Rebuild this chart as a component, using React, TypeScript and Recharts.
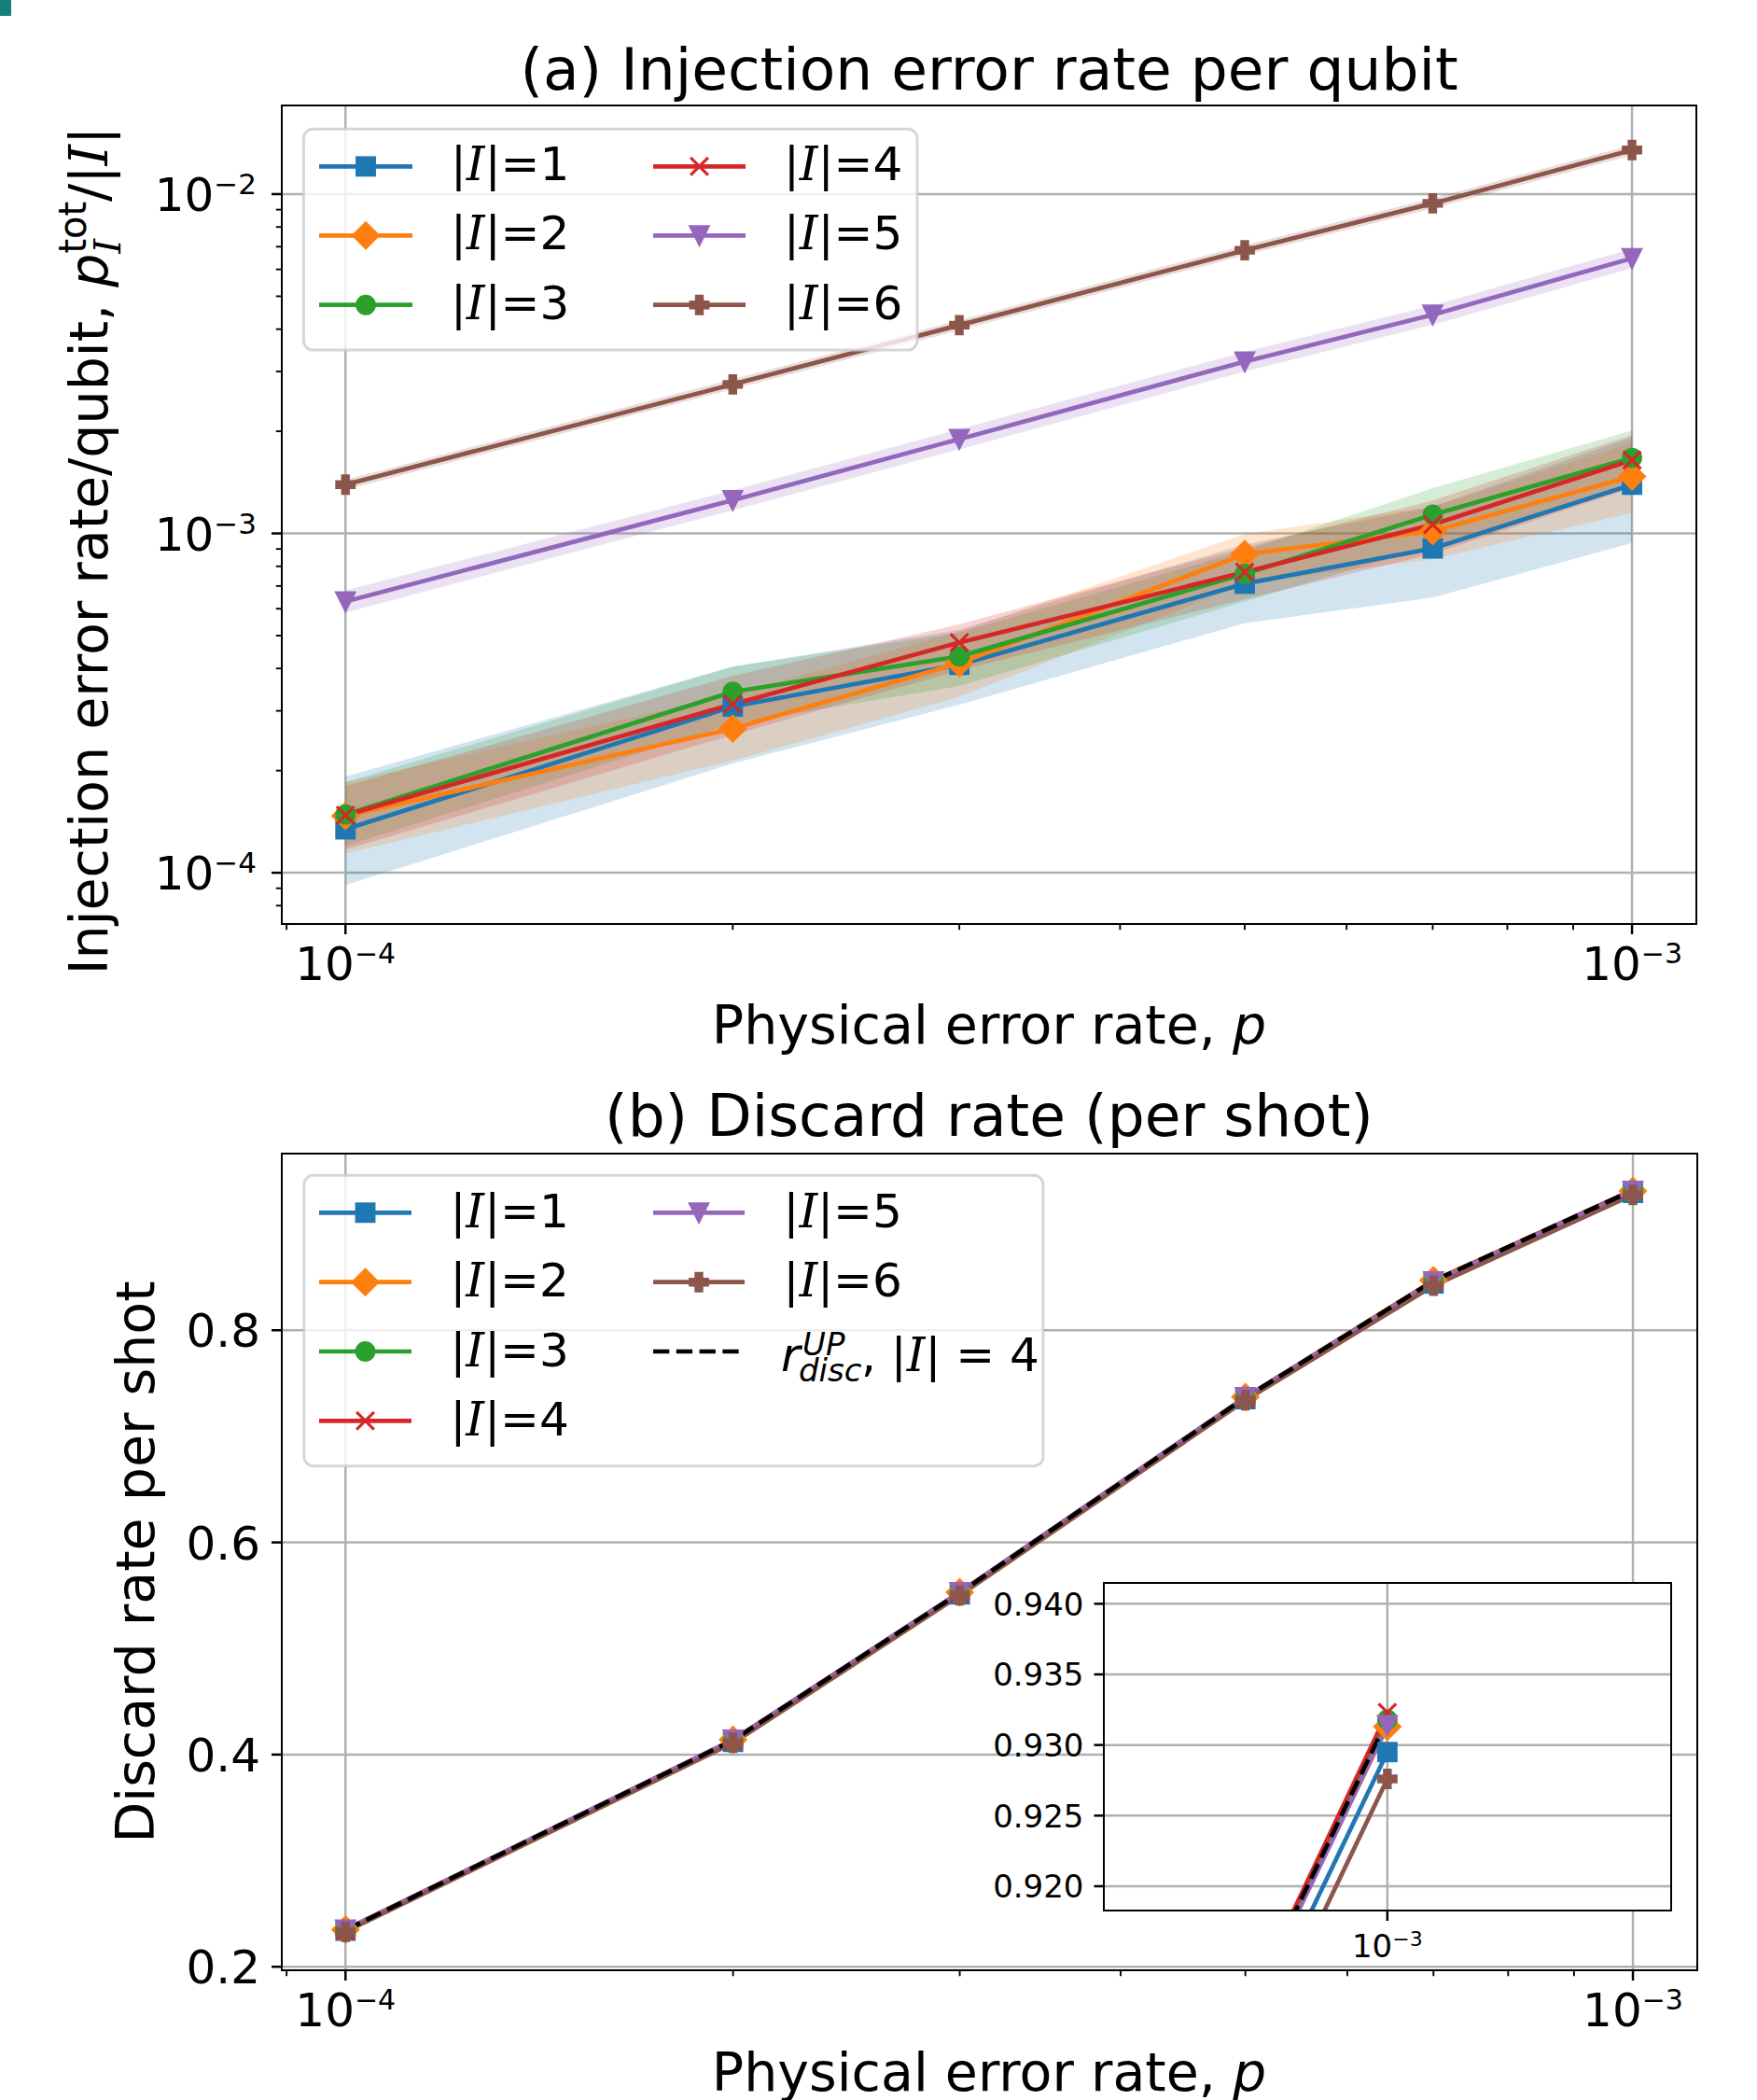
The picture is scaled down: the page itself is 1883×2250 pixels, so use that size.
import React from 'react';
import { ComposedChart, Line, Area, XAxis, YAxis, CartesianGrid } from 'recharts';

const FONT = '"DejaVu Sans", sans-serif';
const CAL = '"DejaVu Serif", serif';

// ---------- data ----------
const P_VALUES = [1e-4, 2e-4, 3e-4, 5e-4, 7e-4, 1e-3];
const SIZE_LABELS = ['1', '2', '3', '4', '5', '6'];
const COLORS = ['#1f77b4', '#ff7f0e', '#2ca02c', '#d62728', '#9467bd', '#8c564b'];
const MARKERS = ['square', 'diamond', 'circle', 'x', 'tri', 'plus'];

// (a) injection error rate per qubit
const inj1 = [1.343e-4, 3.09e-4, 4.1e-4, 7.11e-4, 9.03e-4, 1.392e-3];
const inj2 = [1.47e-4, 2.66e-4, 4.15e-4, 8.69e-4, 1.016e-3, 1.472e-3];
const inj3 = [1.485e-4, 3.415e-4, 4.34e-4, 7.6e-4, 1.135e-3, 1.67e-3];
const inj4 = [1.477e-4, 3.14e-4, 4.77e-4, 7.69e-4, 1.062e-3, 1.644e-3];
const inj5 = [6.3e-4, 1.253e-3, 1.897e-3, 3.21e-3, 4.41e-3, 6.47e-3];
const inj6 = [1.393e-3, 2.75e-3, 4.11e-3, 6.83e-3, 9.39e-3, 1.349e-2];

const inj1Lo = [9.2e-5, 2.1e-4, 3.13e-4, 5.44e-4, 6.47e-4, 9.37e-4];
const inj1Hi = [1.92e-4, 4.05e-4, 5.2e-4, 9.3e-4, 1.2e-3, 1.92e-3];
const inj2Lo = [1.14e-4, 2.14e-4, 3.3e-4, 7.1e-4, 8.4e-4, 1.15e-3];
const inj2Hi = [1.85e-4, 3.35e-4, 5.15e-4, 9.95e-4, 1.2e-3, 1.85e-3];
const inj3Lo = [1.2e-4, 2.75e-4, 3.55e-4, 6.3e-4, 9.2e-4, 1.38e-3];
const inj3Hi = [1.85e-4, 4.05e-4, 5.1e-4, 8.9e-4, 1.36e-3, 2.01e-3];
const inj4Lo = [1.17e-4, 2.55e-4, 3.95e-4, 6.4e-4, 8.7e-4, 1.36e-3];
const inj4Hi = [1.8e-4, 3.8e-4, 5.4e-4, 9.1e-4, 1.25e-3, 1.95e-3];
const inj5Lo = [5.85e-4, 1.17e-3, 1.77e-3, 3.0e-3, 4.12e-3, 6.05e-3];
const inj5Hi = [6.8e-4, 1.34e-3, 2.03e-3, 3.43e-3, 4.7e-3, 6.9e-3];
const inj6Lo = [1.345e-3, 2.66e-3, 3.97e-3, 6.6e-3, 9.07e-3, 1.303e-2];
const inj6Hi = [1.44e-3, 2.85e-3, 4.25e-3, 7.07e-3, 9.72e-3, 1.396e-2];

// (b) discard rate per shot
const disc1 = [0.234, 0.412, 0.551, 0.735, 0.844, 0.9295];
const disc2 = [0.235, 0.414, 0.553, 0.737, 0.847, 0.9313];
const disc3 = [0.234, 0.413, 0.552, 0.736, 0.846, 0.9318];
const disc4 = [0.234, 0.413, 0.552, 0.736, 0.846, 0.9323];
const disc5 = [0.235, 0.414, 0.553, 0.737, 0.846, 0.9314];
const disc6 = [0.233, 0.411, 0.550, 0.734, 0.842, 0.9276];
const discUp = [0.2345, 0.4135, 0.5525, 0.7365, 0.8465, 0.9318];

// ticks
const X_TICKS = [9e-5, 1e-4, 2e-4, 3e-4, 4e-4, 5e-4, 6e-4, 7e-4, 8e-4, 9e-4, 1e-3];
const X_MAJOR = [1e-4, 1e-3];
const Y_TICKS_A = [8e-5, 9e-5, 1e-4, 2e-4, 3e-4, 4e-4, 5e-4, 6e-4, 7e-4, 8e-4, 9e-4, 1e-3,
  2e-3, 3e-3, 4e-3, 5e-3, 6e-3, 7e-3, 8e-3, 9e-3, 1e-2];
const Y_MAJOR_A = [1e-4, 1e-3, 1e-2];
const Y_TICKS_B = [0.2, 0.4, 0.6, 0.8];
const INSET_Y_TICKS = [0.92, 0.925, 0.93, 0.935, 0.94];
const INSET_X_TICKS = [1e-3];

// axis limits
const X_DOMAIN: [number, number] = [8.923e-5, 1.122e-3];
const Y_DOMAIN_A: [number, number] = [7.063e-5, 1.825e-2];
const Y_DOMAIN_B: [number, number] = [0.1967, 0.9665];
const INSET_X_DOMAIN: [number, number] = [8.3966e-4, 1.19124e-3];
const INSET_Y_DOMAIN: [number, number] = [0.91828, 0.94143];

const injS = [inj1, inj2, inj3, inj4, inj5, inj6];
const injLo = [inj1Lo, inj2Lo, inj3Lo, inj4Lo, inj5Lo, inj6Lo];
const injHi = [inj1Hi, inj2Hi, inj3Hi, inj4Hi, inj5Hi, inj6Hi];
const discS = [disc1, disc2, disc3, disc4, disc5, disc6];

const injRows = P_VALUES.map((p, i) => {
  const r: any = { p };
  injS.forEach((s, k) => {
    r['s' + k] = s[i];
    r['b' + k] = [injLo[k][i], injHi[k][i]];
  });
  return r;
});
const discRows = P_VALUES.map((p, i) => {
  const r: any = { p, up: discUp[i] };
  discS.forEach((s, k) => { r['d' + k] = s[i]; });
  return r;
});

// ---------- markers ----------
const MS = 18.75;
const ME = 3.125;
const Marker = ({ cx, cy, kind, color }: any) => {
  if (cx == null || cy == null) return null;
  const h = MS / 2;
  if (kind === 'square') return <rect x={cx - h} y={cy - h} width={MS} height={MS} fill={color} stroke={color} strokeWidth={ME} />;
  if (kind === 'circle') return <circle cx={cx} cy={cy} r={h} fill={color} stroke={color} strokeWidth={ME} />;
  if (kind === 'diamond') {
    const d = MS * Math.SQRT2 / 2;
    return <polygon points={`${cx},${cy - d} ${cx + d},${cy} ${cx},${cy + d} ${cx - d},${cy}`} fill={color} stroke={color} strokeWidth={ME} />;
  }
  if (kind === 'tri') return <polygon points={`${cx},${cy + h} ${cx - h},${cy - h} ${cx + h},${cy - h}`} fill={color} stroke={color} strokeWidth={ME} />;
  if (kind === 'x') return <g stroke={color} strokeWidth={ME}><line x1={cx - h} y1={cy - h} x2={cx + h} y2={cy + h} /><line x1={cx - h} y1={cy + h} x2={cx + h} y2={cy - h} /></g>;
  const u = MS / 6;
  const pts = [[-1, -3], [1, -3], [1, -1], [3, -1], [3, 1], [1, 1], [1, 3], [-1, 3], [-1, 1], [-3, 1], [-3, -1], [-1, -1]]
    .map(([a, b]) => `${cx + a * u},${cy + b * u}`).join(' ');
  return <polygon points={pts} fill={color} stroke={color} strokeWidth={ME} />;
};

const isMajorLog = (v: number) => { const e = Math.log10(v); return Math.abs(e - Math.round(e)) < 1e-6; };

// ---------- ticks ----------
const XLogTick = (props: any) => {
  const { x, y, payload, fs = 50, sup = 30, base = 60, raise = 18, len = 11 } = props;
  const v = payload.value;
  const major = isMajorLog(v);
  const e = Math.round(Math.log10(v));
  return (
    <g>
      <line x1={x} x2={x} y1={y} y2={y + (major ? len : 6.25)} stroke="#000" strokeWidth={major ? 2.5 : 1.9} />
      {major && (
        <text x={x} y={y + base} textAnchor="middle" fontFamily={FONT} fontSize={fs} fill="#000">
          <tspan>10</tspan>
          <tspan fontSize={sup} dy={-raise}>{'\u2212' + Math.abs(e)}</tspan>
        </text>
      )}
    </g>
  );
};

const YLogTick = (props: any) => {
  const { x, y, payload } = props;
  const v = payload.value;
  const major = isMajorLog(v);
  const e = Math.round(Math.log10(v));
  return (
    <g>
      <line x1={x - (major ? 11 : 6.25)} x2={x} y1={y} y2={y} stroke="#000" strokeWidth={major ? 2.5 : 1.9} />
      {major && (
        <text x={x - 27} y={y + 18} textAnchor="end" fontFamily={FONT} fontSize={50} fill="#000">
          <tspan>10</tspan>
          <tspan fontSize={31} dy={-18}>{'\u2212' + Math.abs(e)}</tspan>
        </text>
      )}
    </g>
  );
};

const YLinTick = (props: any) => {
  const { x, y, payload, fs = 50, digits = 1, len = 11, gap = 23 } = props;
  return (
    <g>
      <line x1={x - len} x2={x} y1={y} y2={y} stroke="#000" strokeWidth={2.5} />
      <text x={x - gap} y={y + fs * 0.3645} textAnchor="end" fontFamily={FONT} fontSize={fs} fill="#000">
        {payload.value.toFixed(digits)}
      </text>
    </g>
  );
};

// ---------- helpers ----------
const Frame = ({ l, t, r, b }: any) => (
  <div style={{ position: 'absolute', left: l - 1.25, top: t - 1.25, width: r - l + 2.5, height: b - t + 2.5, border: '2.5px solid #000', boxSizing: 'border-box', pointerEvents: 'none' }} />
);

const LegendEntry = ({ x0, x1, y, color, kind, dashed }: any) => (
  <g>
    <line x1={x0} x2={x1} y1={y} y2={y} stroke={color} strokeWidth={4.7} strokeDasharray={dashed ? '17.3 7.5' : undefined} />
    {!dashed && <Marker cx={(x0 + x1) / 2} cy={y} kind={kind} color={color} />}
  </g>
);

const CalI = () => <tspan fontFamily={CAL} fontStyle="italic">I</tspan>;

const SizeLabel = ({ x, y, n }: any) => (
  <text x={x} y={y} fontFamily={FONT} fontSize={50} fill="#000">
    <tspan>|</tspan><CalI /><tspan>|={n}</tspan>
  </text>
);

export default function App() {
  const seriesLines = (prefix: string) => SIZE_LABELS.map((_, k) => (
    <Line key={prefix + k} dataKey={prefix + k} type="linear" stroke={COLORS[k]} strokeWidth={4.7}
      isAnimationActive={false} activeDot={false}
      dot={(pr: any) => <Marker key={prefix + k + '-' + pr.index} cx={pr.cx} cy={pr.cy} kind={MARKERS[k]} color={COLORS[k]} />} />
  ));
  const upLine = (
    <Line key="up" dataKey="up" type="linear" stroke="#000" strokeWidth={4.7} strokeDasharray="17.3 7.5"
      isAnimationActive={false} activeDot={false} dot={false} />
  );

  // legend rows
  const rowsA = [178.3, 252.3, 326.7];
  const rowsB = [1299.3, 1373.7, 1448, 1522.3];

  return (
    <div style={{ position: 'absolute', left: 0, top: 0, width: 1883, height: 2250, background: '#fff', overflow: 'hidden', fontFamily: FONT }}>
      <div style={{ position: 'absolute', left: 0, top: 0, width: 12, height: 17, background: '#17807e' }} />

      {/* panel (a) */}
      <div style={{ position: 'absolute', left: 0, top: 0 }}>
        <ComposedChart width={1883} height={1120} data={injRows} margin={{ top: 113, right: 65, bottom: 30, left: 0 }}>
          <CartesianGrid stroke="#b0b0b0" strokeWidth={2.5} horizontalValues={Y_MAJOR_A} verticalValues={X_MAJOR} />
          <XAxis dataKey="p" type="number" scale="log" domain={X_DOMAIN} allowDataOverflow ticks={X_TICKS} interval={0}
            tick={(p: any) => <XLogTick {...p} />} tickLine={false} axisLine={false} tickSize={0} tickMargin={0} height={100} />
          <YAxis type="number" scale="log" domain={Y_DOMAIN_A} allowDataOverflow ticks={Y_TICKS_A} interval={0}
            tick={(p: any) => <YLogTick {...p} />} tickLine={false} axisLine={false} tickSize={0} tickMargin={0} width={302} />
          {SIZE_LABELS.map((_, k) => (
            <Area key={'b' + k} dataKey={'b' + k} type="linear" fill={COLORS[k]} fillOpacity={0.2} stroke="none"
              isAnimationActive={false} activeDot={false} dot={false} />
          ))}
          {seriesLines('s')}
        </ComposedChart>
      </div>
      <Frame l={302} t={113} r={1818} b={990} />

      {/* panel (b) */}
      <div style={{ position: 'absolute', left: 0, top: 1130 }}>
        <ComposedChart width={1883} height={1120} data={discRows} margin={{ top: 106, right: 64, bottom: 39, left: 0 }}>
          <CartesianGrid stroke="#b0b0b0" strokeWidth={2.5} horizontalValues={Y_TICKS_B} verticalValues={X_MAJOR} />
          <XAxis dataKey="p" type="number" scale="log" domain={X_DOMAIN} allowDataOverflow ticks={X_TICKS} interval={0}
            tick={(p: any) => <XLogTick {...p} />} tickLine={false} axisLine={false} tickSize={0} tickMargin={0} height={100} />
          <YAxis type="number" domain={Y_DOMAIN_B} allowDataOverflow ticks={Y_TICKS_B} interval={0}
            tick={(p: any) => <YLinTick {...p} />} tickLine={false} axisLine={false} tickSize={0} tickMargin={0} width={302} />
          {seriesLines('d')}
          {upLine}
        </ComposedChart>
      </div>
      <Frame l={302} t={1236} r={1819} b={2111} />

      {/* inset */}
      <div style={{ position: 'absolute', left: 1183.5, top: 1696.7, width: 607.1, height: 350.3, background: '#fff' }} />
      <div style={{ position: 'absolute', left: 1000, top: 1650 }}>
        <ComposedChart width={820} height={480} data={discRows} margin={{ top: 46.7, right: 29.4, bottom: 23, left: 0 }}>
          <CartesianGrid stroke="#b0b0b0" strokeWidth={2.5} horizontalValues={INSET_Y_TICKS} verticalValues={INSET_X_TICKS} />
          <XAxis dataKey="p" type="number" scale="log" domain={INSET_X_DOMAIN} allowDataOverflow ticks={INSET_X_TICKS} interval={0}
            tick={(p: any) => <XLogTick {...p} fs={34} sup={22} base={50} raise={12} />} tickLine={false} axisLine={false} tickSize={0} tickMargin={0} height={60} />
          <YAxis type="number" domain={INSET_Y_DOMAIN} allowDataOverflow ticks={INSET_Y_TICKS} interval={0}
            tick={(p: any) => <YLinTick {...p} fs={34} digits={3} gap={22} />} tickLine={false} axisLine={false} tickSize={0} tickMargin={0} width={183.5} />
          {seriesLines('d')}
          {upLine}
        </ComposedChart>
      </div>
      <Frame l={1183.5} t={1696.7} r={1790.6} b={2047} />

      {/* texts and legends */}
      <svg width={1883} height={2250} style={{ position: 'absolute', left: 0, top: 0, pointerEvents: 'none' }}>
        <text x={1060} y={96} textAnchor="middle" fontFamily={FONT} fontSize={63} fill="#000">(a) Injection error rate per qubit</text>
        <text x={1060} y={1217} textAnchor="middle" fontFamily={FONT} fontSize={63} fill="#000">(b) Discard rate (per shot)</text>
        <text x={1060} y={1118} textAnchor="middle" fontFamily={FONT} fontSize={57} fill="#000">Physical error rate, <tspan fontStyle="italic">p</tspan></text>
        <text x={1060} y={2240} textAnchor="middle" fontFamily={FONT} fontSize={57} fill="#000">Physical error rate, <tspan fontStyle="italic">p</tspan></text>
        <text transform="translate(165,1673.5) rotate(-90)" textAnchor="middle" fontFamily={FONT} fontSize={57} fill="#000">Discard rate per shot</text>
        <text transform="translate(115,590) rotate(-90)" textAnchor="middle" fontFamily={FONT} fontSize={57} fill="#000">
          <tspan>Injection error rate/qubit, </tspan>
          <tspan fontStyle="italic">p</tspan>
          <tspan fontSize={40} dy={-23}>tot</tspan>
          <tspan fontSize={40} fontFamily={CAL} fontStyle="italic" dx={-56} dy={37}>I</tspan>
          <tspan dx={40} dy={-14}>/|</tspan>
          <CalI />
          <tspan>|</tspan>
        </text>

        {/* legend (a) */}
        <rect x={325.4} y={138.3} width={657.6} height={236.7} rx={10} fill="#fff" fillOpacity={0.8} stroke="#cccccc" strokeOpacity={0.8} strokeWidth={3} />
        {[0, 1, 2].map((r) => (
          <g key={'la' + r}>
            <LegendEntry x0={342} x1={442} y={rowsA[r]} color={COLORS[r]} kind={MARKERS[r]} />
            <SizeLabel x={483} y={rowsA[r] + 15} n={SIZE_LABELS[r]} />
            <LegendEntry x0={700} x1={799} y={rowsA[r]} color={COLORS[r + 3]} kind={MARKERS[r + 3]} />
            <SizeLabel x={840} y={rowsA[r] + 15} n={SIZE_LABELS[r + 3]} />
          </g>
        ))}

        {/* legend (b) */}
        <rect x={325.8} y={1259.3} width={792.2} height={311.4} rx={10} fill="#fff" fillOpacity={0.8} stroke="#cccccc" strokeOpacity={0.8} strokeWidth={3} />
        {[0, 1, 2, 3].map((r) => (
          <g key={'lb' + r}>
            <LegendEntry x0={342} x1={441} y={rowsB[r]} color={COLORS[r]} kind={MARKERS[r]} />
            <SizeLabel x={482.5} y={rowsB[r] + 15.5} n={SIZE_LABELS[r]} />
          </g>
        ))}
        {[0, 1].map((r) => (
          <g key={'lb2' + r}>
            <LegendEntry x0={700} x1={798} y={rowsB[r]} color={COLORS[r + 4]} kind={MARKERS[r + 4]} />
            <SizeLabel x={839.6} y={rowsB[r] + 15.5} n={SIZE_LABELS[r + 4]} />
          </g>
        ))}
        <LegendEntry x0={700} x1={798} y={rowsB[2]} color="#000" dashed />
        <text fontFamily={FONT} fontSize={50} fill="#000">
          <tspan x={837} y={1469} fontStyle="italic">r</tspan>
          <tspan x={860} y={1452} fontSize={34} fontStyle="italic">UP</tspan>
          <tspan x={856} y={1480} fontSize={34} fontStyle="italic">disc</tspan>
          <tspan x={923} y={1469}>, |</tspan>
          <CalI />
          <tspan>| = 4</tspan>
        </text>
      </svg>
    </div>
  );
}
